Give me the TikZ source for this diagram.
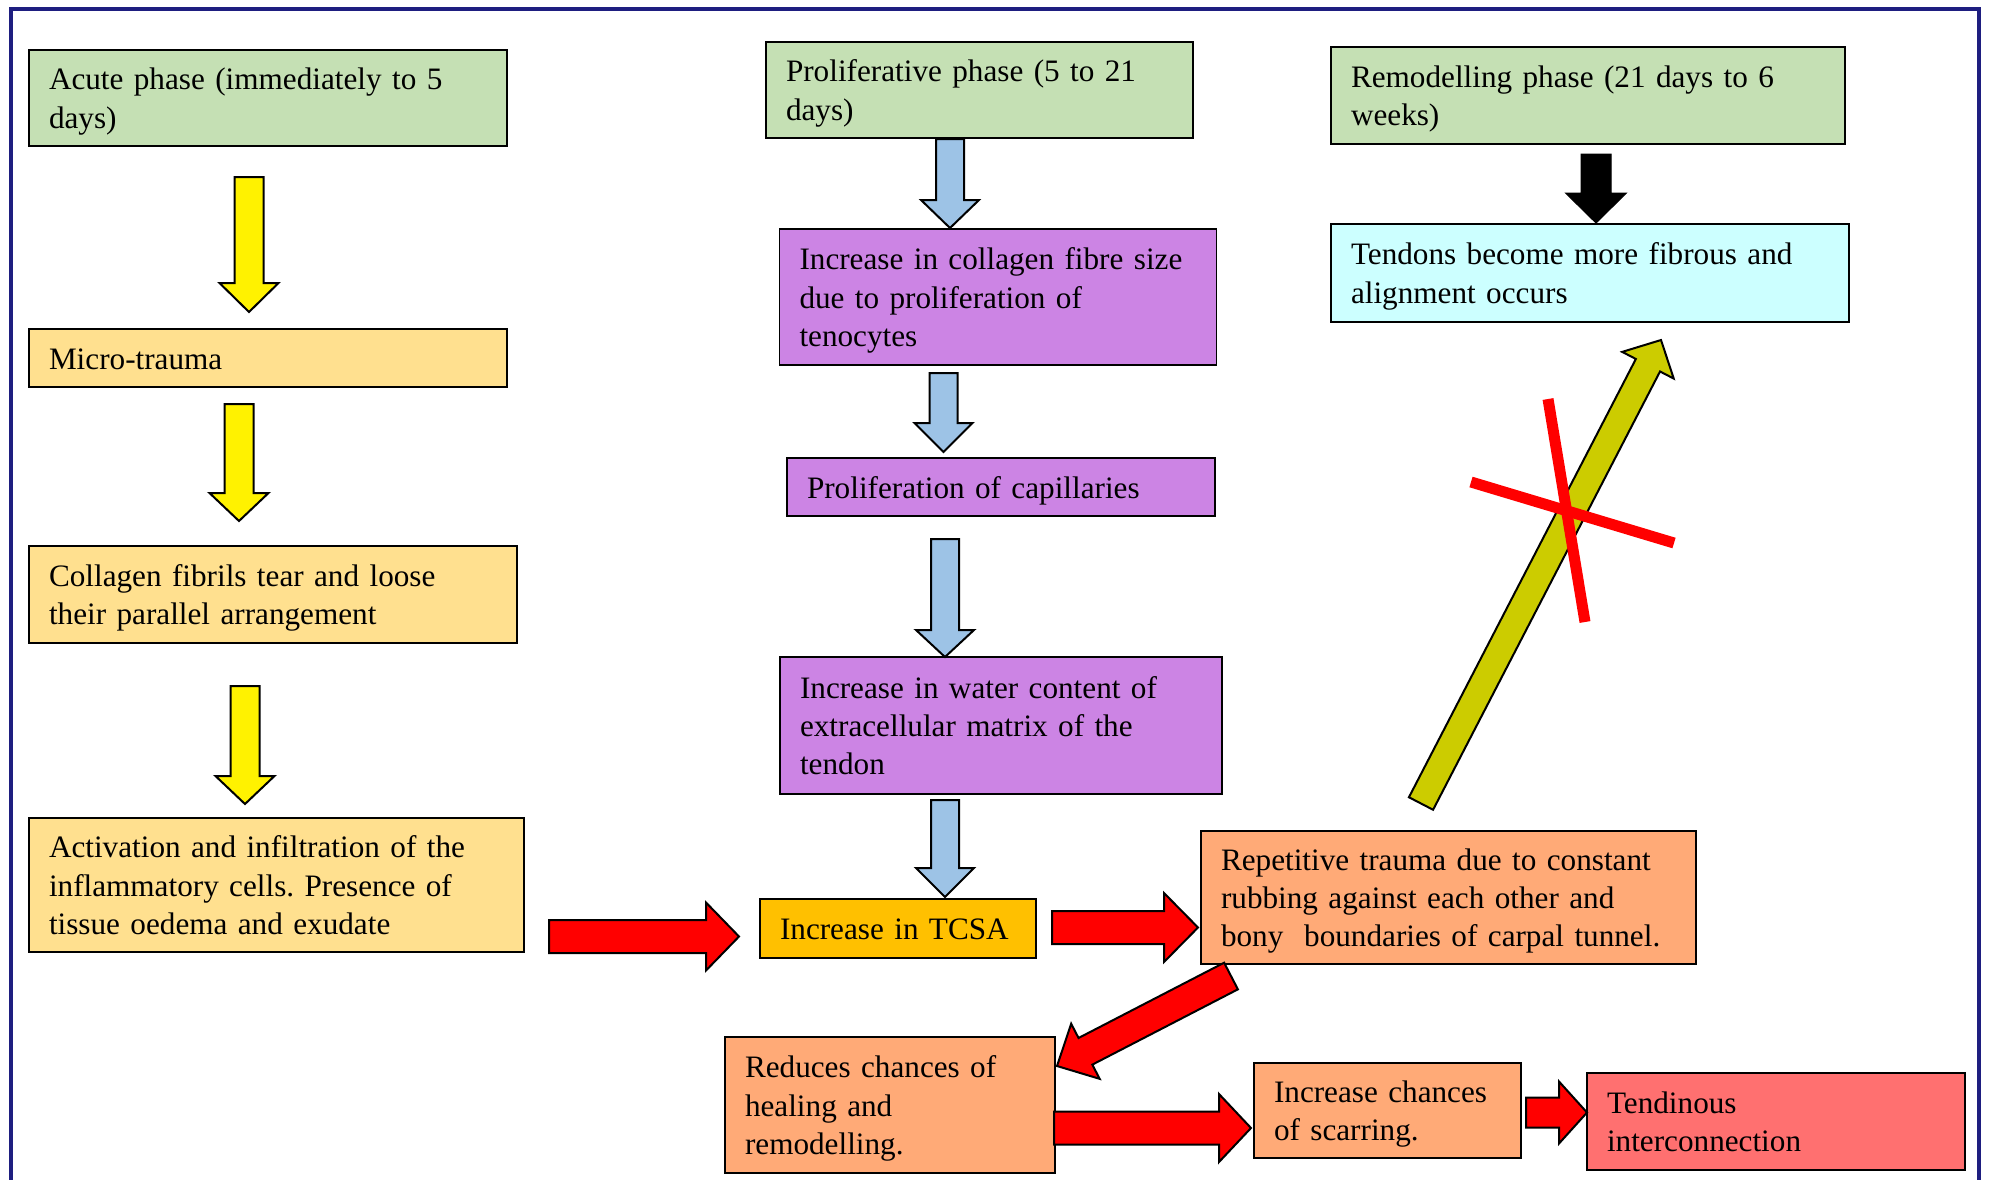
\documentclass[tikz,border=0pt]{standalone}
\usepackage{fontspec}
\setmainfont{Liberation Serif}
\usetikzlibrary{calc}
\definecolor{cgreen}{RGB}{197,224,180}
\definecolor{cyel}{RGB}{255,224,143}
\definecolor{cpurple}{RGB}{204,132,228}
\definecolor{corange}{RGB}{255,192,0}
\definecolor{ccyan}{RGB}{204,255,255}
\definecolor{csalmon}{RGB}{255,170,119}
\definecolor{cred}{RGB}{255,112,112}
\definecolor{cblue}{RGB}{157,195,230}
\definecolor{colive}{RGB}{204,204,0}
\definecolor{navyframe}{RGB}{30,30,128}
% #1 style, #2 tail, #3 tip, #4 shaft half width, #5 head half width, #6 head length
\newcommand{\blockarrow}[6]{%
  \coordinate (bneck) at ($(#3)!#6!(#2)$);
  \draw[#1] ($(#2)!#4!90:(#3)$) -- ($(bneck)!#4!90:(#3)$) -- ($(bneck)!#5!90:(#3)$) -- (#3)
    -- ($(bneck)!#5!-90:(#3)$) -- ($(bneck)!#4!-90:(#3)$) -- ($(#2)!#4!-90:(#3)$) -- cycle;}
\begin{document}
\frenchspacing
\begin{tikzpicture}[x=0.5pt,y=-0.5pt,
  font=\fontsize{15.6}{19.1}\selectfont\frenchspacing,
  box/.style={draw=black, line width=0.9pt, inner xsep=10pt, inner ysep=0pt, align=left, outer sep=0pt,
    execute at begin node={\rule{0pt}{15.5pt}},
    execute at end node={\rule[-4.5pt]{0pt}{4.5pt}}},
  yarrow/.style={draw=black, line width=1pt, fill=yellow},
  barrow/.style={draw=black, line width=1pt, fill=cblue},
  karrow/.style={draw=black, line width=0.5pt, fill=black},
  rarrow/.style={draw=black, line width=1pt, fill=red},
  oarrow/.style={draw=black, line width=1pt, fill=colive},
  cross/.style={draw=red, line width=5.5pt}]
\useasboundingbox (0,0) rectangle (1991,1179);
\fill[white] (0,0) rectangle (1991,1179);
\draw[navyframe, line width=1.6pt] (11,1190) -- (11,9) -- (1979,9) -- (1979,1190);

% boxes
\node[box, fill=cgreen, text width=219pt, minimum height=48pt] (acute) at (268,98) {Acute phase (immediately to 5\\days)};
\node[box, fill=cyel, text width=219pt, minimum height=29pt] (micro) at (268,358) {Micro-trauma};
\node[box, fill=cyel, text width=224pt, minimum height=48.5pt] (tear) at (273,594.5) {Collagen fibrils tear and loose\\their parallel arrangement};
\node[box, fill=cyel, text width=227.5pt, minimum height=67pt] (activ) at (276.5,885) {Activation and infiltration of the\\inflammatory cells. Presence of\\tissue oedema and exudate};
\node[box, fill=cgreen, text width=193.5pt, minimum height=48pt] (prolif) at (979.5,90) {Proliferative phase (5 to 21\\days)};
\node[box, fill=cpurple, text width=198.5pt, minimum height=68pt] (colfib) at (998,297) {Increase in collagen fibre size\\due to proliferation of\\tenocytes};
\node[box, fill=cpurple, text width=194pt, minimum height=29pt] (capil) at (1001,487) {Proliferation of capillaries};
\node[box, fill=cpurple, text width=201pt, minimum height=68.5pt] (water) at (1001,725.5) {Increase in water content of\\extracellular matrix of the\\tendon};
\node[box, fill=corange, text width=118pt, minimum height=29.5pt] (tcsa) at (898,928.5) {Increase in TCSA};
\node[box, fill=cgreen, text width=237pt, minimum height=48.5pt] (remod) at (1588,95.5) {Remodelling phase (21 days to 6\\weeks)};
\node[box, fill=ccyan, text width=239pt, minimum height=49pt] (tendons) at (1590,273) {Tendons become more fibrous and\\alignment occurs};
\node[box, fill=csalmon, text width=227.5pt, minimum height=66.5pt] (repet) at (1448.5,897.5) {Repetitive trauma due to constant\\rubbing against each other and\\bony~ boundaries of carpal tunnel.};
\node[box, fill=csalmon, text width=145pt, minimum height=68pt] (reduces) at (890,1105) {Reduces chances of\\healing and\\remodelling.};
\node[box, fill=csalmon, text width=113.5pt, minimum height=47.5pt] (scar) at (1387.5,1110.5) {Increase chances\\of scarring.};
\node[box, fill=cred, text width=169pt, minimum height=48.5pt] (tendinous) at (1776,1121.5) {Tendinous\\interconnection};

% arrow end points
\coordinate (ya1) at (249,177);  \coordinate (ya2) at (249,312);
\coordinate (yb1) at (239,404);  \coordinate (yb2) at (239,521);
\coordinate (yc1) at (245,686);  \coordinate (yc2) at (245,804);
\coordinate (ba1) at (950,139);  \coordinate (ba2) at (950,228);
\coordinate (bb1) at (943.5,373); \coordinate (bb2) at (943.5,452);
\coordinate (bc1) at (945,539);  \coordinate (bc2) at (945,657);
\coordinate (bd1) at (945,800);  \coordinate (bd2) at (945,897);
\coordinate (k1) at (1596,154);  \coordinate (k2) at (1596,223);
\coordinate (r11) at (549,936.5);  \coordinate (r12) at (739,936.5);
\coordinate (r21) at (1052,927.5); \coordinate (r22) at (1198,927.5);
\coordinate (r31) at (1054,1128);  \coordinate (r32) at (1251,1128);
\coordinate (r41) at (1526,1112.5); \coordinate (r42) at (1587,1112.5);
\coordinate (rd1) at (1231,976);   \coordinate (rd2) at (1057,1066);
\coordinate (ol1) at (1421,803.5); \coordinate (ol2) at (1661,340);
\coordinate (xa1) at (1548,399); \coordinate (xa2) at (1585,622);
\coordinate (xb1) at (1471,482); \coordinate (xb2) at (1674,543);

% arrows
\blockarrow{yarrow}{ya1}{ya2}{7.25pt}{14.75pt}{14.5pt}
\blockarrow{yarrow}{yb1}{yb2}{7.25pt}{14.75pt}{14pt}
\blockarrow{yarrow}{yc1}{yc2}{7.25pt}{14.75pt}{14pt}
\blockarrow{barrow}{ba1}{ba2}{7pt}{14.5pt}{14pt}
\blockarrow{barrow}{bb1}{bb2}{7pt}{14.5pt}{14.5pt}
\blockarrow{barrow}{bc1}{bc2}{7pt}{14.5pt}{13.5pt}
\blockarrow{barrow}{bd1}{bd2}{7pt}{14.5pt}{14.5pt}
\blockarrow{karrow}{k1}{k2}{7.5pt}{15.25pt}{15pt}
\blockarrow{rarrow}{r11}{r12}{8.25pt}{17pt}{16.5pt}
\blockarrow{rarrow}{r21}{r22}{8.25pt}{17.25pt}{17pt}
\blockarrow{rarrow}{r31}{r32}{8.25pt}{17pt}{16pt}
\blockarrow{rarrow}{r41}{r42}{7.5pt}{15.5pt}{14pt}
\blockarrow{rarrow}{rd1}{rd2}{7.5pt}{15.5pt}{16pt}
\blockarrow{oarrow}{ol1}{ol2}{6.8pt}{14.5pt}{14.2pt}

% red cross
\draw[cross] (xa1) -- (xa2);
\draw[cross] (xb1) -- (xb2);
\end{tikzpicture}
\end{document}
